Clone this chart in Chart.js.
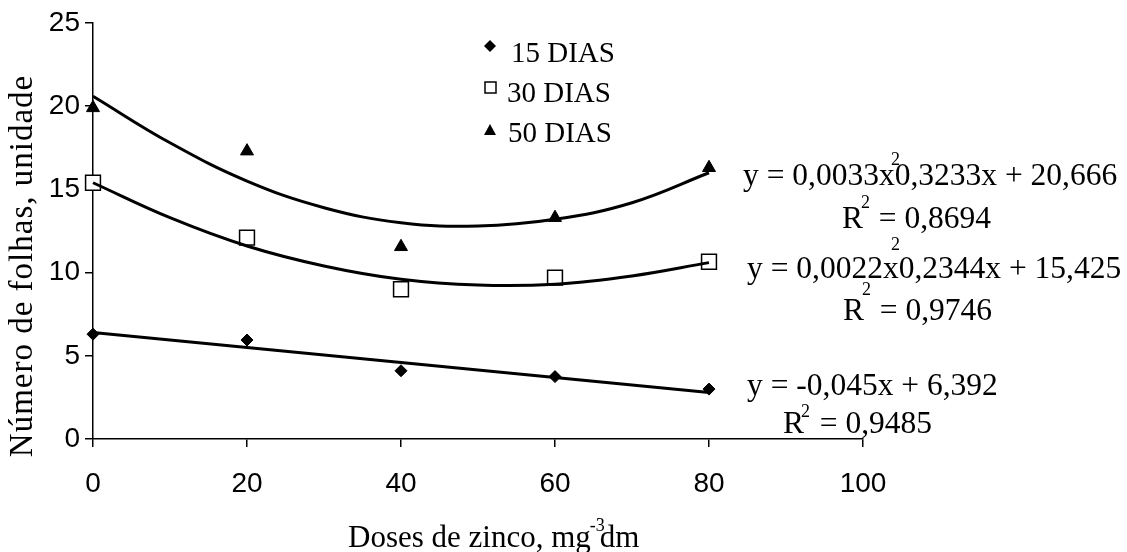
<!DOCTYPE html>
<html>
<head>
<meta charset="utf-8">
<script src="https://cdn.jsdelivr.net/npm/chart.js@4"></script>
<style>
  body { margin: 0; background: #fff; }
  #wrap { width: 1127px; height: 552px; }
</style>
</head>
<body>
<div id="wrap"><canvas id="myChart" width="1127" height="552"></canvas></div>
<script>
"use strict";

// doses de zinco (x) and leaf counts
const doses = [0, 20, 40, 60, 80];
const dias15 = [6.3, 5.95, 4.1, 3.75, 3.0];
const dias30 = [15.4, 12.1, 9.0, 9.7, 10.65];
const dias50 = [19.9, 17.3, 11.55, 13.3, 16.3];

// fitted curves
const curveX = [0, 10, 20, 30, 40, 50, 60, 70, 80];
const curve50 = [20.6, 17.8, 15.5, 13.9, 13.0, 12.8, 13.2, 14.2, 16.0];
const curve30 = [15.4, 13.3, 11.6, 10.4, 9.6, 9.25, 9.3, 9.8, 10.6];
const lineX = [0, 80];
const line15 = [6.4, 2.8];

const xTicks = [0, 20, 40, 60, 80, 100];
const yTicks = [0, 5, 10, 15, 20, 25];

const serif = "'Liberation Serif', 'Times New Roman', serif";
const sans = "'Liberation Sans', Arial, sans-serif";

const pts = (xs, ys) => xs.map((x, i) => ({ x: x, y: ys[i] }));

const ctx = document.getElementById("myChart");

// legend, equations and axis titles drawn as text on the canvas
const annotations = {
  id: "annotations",
  afterDraw(chart) {
    const c = chart.ctx;
    c.save();
    c.fillStyle = "#000";
    c.strokeStyle = "#000";
    c.textBaseline = "alphabetic";
    c.textAlign = "left";

    // legend
    c.font = "29px " + serif;
    c.fillText("15 DIAS", 511, 62);
    c.fillText("30 DIAS", 507, 102);
    c.fillText("50 DIAS", 508, 142);
    c.beginPath();
    c.moveTo(490, 40); c.lineTo(496, 46); c.lineTo(490, 52); c.lineTo(484, 46);
    c.closePath(); c.fill();
    c.lineWidth = 1.5;
    c.fillStyle = "#fff";
    c.fillRect(485, 82, 11, 11);
    c.strokeRect(485, 82, 11, 11);
    c.fillStyle = "#000";
    c.beginPath();
    c.moveTo(490, 124); c.lineTo(496, 135); c.lineTo(484, 135);
    c.closePath(); c.fill();

    // equations
    c.font = "31.5px " + serif;
    c.fillText("y = 0,0033x0,3233x + 20,666", 743, 185);
    c.fillText("y = 0,0022x0,2344x + 15,425", 747, 278);
    c.fillText("y = -0,045x + 6,392", 747, 395);
    c.fillText("R  = 0,8694", 842, 228);
    c.fillText("R  = 0,9746", 843, 320);
    c.fillText("R  = 0,9485", 783, 433);
    c.font = "18px " + serif;
    c.fillText("2", 891, 165);
    c.fillText("2", 891, 250);
    c.fillText("2", 861, 208);
    c.fillText("2", 862, 295);
    c.fillText("2", 801, 417);

    // x title
    c.font = "31px " + serif;
    const head = "Doses de zinco, mg";
    c.fillText(head, 348, 547);
    const headW = c.measureText(head).width;
    c.fillText("dm", 348 + headW + 9, 547);
    c.font = "18px " + serif;
    c.fillText("-3", 348 + headW - 1, 531);

    // y title
    c.translate(32, 266);
    c.rotate(-Math.PI / 2);
    c.font = "33px " + serif;
    c.letterSpacing = "1px";
    c.textAlign = "center";
    c.fillText("Número de folhas, unidade", 0, 0);
    c.restore();
  }
};

new Chart(ctx, {
  type: "scatter",
  data: {
    datasets: [
      {
        label: "50 DIAS curva",
        data: pts(curveX, curve50),
        showLine: true,
        tension: 0.4,
        borderColor: "#000",
        borderWidth: 3,
        pointRadius: 0,
        clip: false,
      },
      {
        label: "30 DIAS curva",
        data: pts(curveX, curve30),
        showLine: true,
        tension: 0.4,
        borderColor: "#000",
        borderWidth: 3,
        pointRadius: 0,
        clip: false,
      },
      {
        label: "15 DIAS reta",
        data: pts(lineX, line15),
        showLine: true,
        borderColor: "#000",
        borderWidth: 3,
        pointRadius: 0,
        clip: false,
      },
      {
        label: "15 DIAS",
        data: pts(doses, dias15),
        pointStyle: "rectRot",
        pointRadius: 6,
        backgroundColor: "#000",
        borderColor: "#000",
        clip: false,
      },
      {
        label: "30 DIAS",
        data: pts(doses, dias30),
        pointStyle: "rect",
        pointRadius: 10.5,
        backgroundColor: "#fff",
        borderColor: "#000",
        borderWidth: 1.5,
        clip: false,
      },
      {
        label: "50 DIAS",
        data: pts(doses, dias50),
        pointStyle: "triangle",
        pointRadius: 7.5,
        backgroundColor: "#000",
        borderColor: "#000",
        clip: false,
      },
    ],
  },
  options: {
    responsive: false,
    animation: false,
    layout: { padding: { left: 0, right: 264, top: 23, bottom: 0 } },
    plugins: {
      legend: { display: false },
      tooltip: { enabled: false },
    },
    scales: {
      x: {
        type: "linear",
        min: 0,
        max: 100,
        afterFit: (s) => { s.height = 113; },
        afterBuildTicks: (s) => { s.ticks = xTicks.map((v) => ({ value: v })); },
        ticks: {
          color: "#000",
          font: { family: sans, size: 28 },
          padding: 20,
        },
        grid: { drawOnChartArea: false, tickLength: 8, color: "#000", lineWidth: 1.5 },
        border: { color: "#000", width: 1.5 },
      },
      y: {
        min: 0,
        max: 25,
        afterFit: (s) => { s.width = 93; },
        afterBuildTicks: (s) => { s.ticks = yTicks.map((v) => ({ value: v })); },
        ticks: {
          color: "#000",
          font: { family: sans, size: 28 },
          padding: 5,
        },
        grid: { drawOnChartArea: false, tickLength: 8, color: "#000", lineWidth: 1.5 },
        border: { color: "#000", width: 1.5 },
      },
    },
  },
  plugins: [annotations],
});
</script>
</body>
</html>
